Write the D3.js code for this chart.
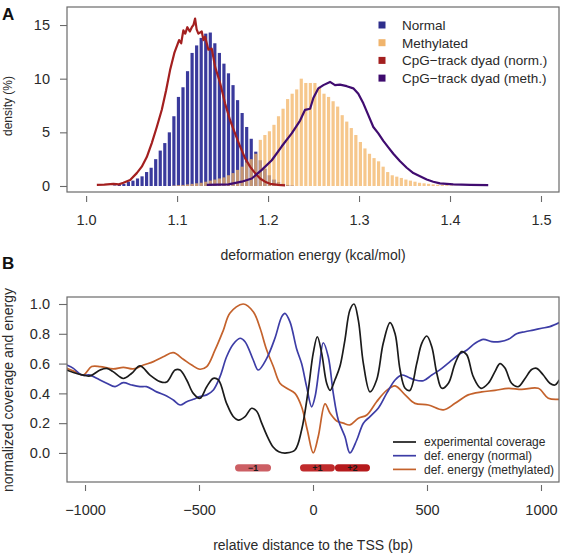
<!DOCTYPE html>
<html><head><meta charset="utf-8">
<script src="https://cdn.jsdelivr.net/npm/d3@7"></script>
<style>
body{margin:0;background:#fff}
svg{display:block}
text{font-family:"Liberation Sans",Arial,Helvetica,sans-serif}
</style>
</head><body>
<svg id="c" width="562" height="553"></svg>
<script>
// ---------- Panel A data ----------
const binWidth = 0.005;
const normalFirstCenter = 1.0315;
const normalDensity = [0.05,0.1,0.2,0.4,0.5,0.7,0.9,1.3,1.7,2.5,3.3,4.0,5.0,6.5,8.3,9.2,10.7,12.4,13.1,13.8,14.2,14.3,13.3,12.4,11.4,10.5,9.4,8.0,6.8,5.5,4.4,3.2,2.4,1.6,1.0,0.6,0.35,0.2,0.1,0.05];
const methFirstCenter = 1.0965;
const methDensity = [0.05,0.08,0.1,0.15,0.2,0.25,0.3,0.4,0.5,0.6,0.7,0.8,1.0,1.2,1.5,1.8,2.2,2.5,3.0,4.3,4.75,5.1,5.7,6.5,7.2,8.1,8.6,9.0,10.0,9.6,9.6,9.6,9.25,8.6,8.3,7.9,7.4,6.6,6.0,5.4,4.75,4.1,3.5,3.0,2.6,2.3,1.8,1.3,1.0,0.87,0.75,0.6,0.5,0.4,0.3,0.25,0.2,0.15,0.12,0.1,0.08,0.05,0.03];
const cpgNormE = [1.0118,1.020,1.030,1.036,1.041,1.0484,1.0557,1.0612,1.0667,1.0722,1.0777,1.0832,1.0879,1.0923,1.097,1.1022,1.1045,1.1069,1.109,1.1113,1.114,1.1162,1.118,1.1198,1.1215,1.1234,1.1271,1.129,1.1308,1.1344,1.1381,1.1418,1.1473,1.1527,1.1582,1.1637,1.1692,1.1747,1.1802,1.1857,1.1912,1.1967,1.2022,1.211,1.2187];
const cpgNormD = [0.1,0.12,0.2,0.15,0.3,0.56,1.2,1.8,2.7,4.0,5.5,7.1,8.9,10.8,12.4,13.6,13.3,14.5,14.2,14.8,14.4,14.8,15.0,15.6,14.6,14.2,14.4,13.6,13.9,12.7,12.8,11.1,9.6,7.7,6.15,4.9,3.7,2.6,1.8,1.2,0.7,0.4,0.2,0.1,0.05];
const cpgMethE = [1.1326,1.1564,1.1711,1.1821,1.1931,1.2041,1.2151,1.2260,1.2352,1.2407,1.2462,1.2498,1.2553,1.2608,1.2681,1.2736,1.2791,1.2865,1.2937,1.2992,1.3047,1.3102,1.3157,1.3212,1.3267,1.3322,1.3377,1.3451,1.3524,1.3597,1.3670,1.3744,1.3816,1.3890,1.3964,1.4036,1.422,1.442];
const cpgMethD = [0.1,0.15,0.4,0.7,1.5,2.4,3.7,4.9,6.1,7.1,7.2,8.2,9.1,9.4,9.7,9.4,9.45,9.3,9.1,8.6,7.7,6.6,5.5,4.9,4.2,3.6,3.0,2.3,1.7,1.2,0.9,0.6,0.4,0.25,0.2,0.15,0.1,0.08];
const xTicksA = [1.0,1.1,1.2,1.3,1.4,1.5];
const yTicksA = [0,5,10,15];
const legendA = ["Normal","Methylated","CpG\u2212track dyad (norm.)","CpG\u2212track dyad (meth.)"];
const legendAColors = ["#2e2e8c","#f0b46c","#a31f1f","#3e0b6e"];

// ---------- Panel B data ----------
const blackX = [-1080,-1051,-1007,-978,-934,-905,-877,-832,-795,-759,-715,-671,-642,-605,-583,-554,-525,-496,-466,-437,-415,-379,-350,-328,-298,-269,-247,-225,-200,-175,-150,-115,-79,-50,-21,1,19,38,60,75,96,118,140,162,180,199,221,250,279,308,338,360,382,404,425,455,477,499,521,543,565,594,623,652,674,703,737,769,798,820,842,871,900,930,959,981,1010,1039,1061,1080];
const blackY = [0.557,0.54,0.523,0.517,0.557,0.568,0.546,0.50,0.535,0.584,0.523,0.479,0.476,0.557,0.557,0.49,0.40,0.367,0.445,0.501,0.49,0.333,0.245,0.221,0.244,0.30,0.28,0.2,0.11,0.04,0.008,0.0,0.02,0.154,0.42,0.67,0.78,0.67,0.468,0.42,0.49,0.58,0.758,0.96,1.0,0.89,0.60,0.41,0.49,0.736,0.875,0.80,0.557,0.434,0.42,0.60,0.736,0.785,0.713,0.535,0.434,0.468,0.60,0.68,0.66,0.512,0.434,0.468,0.546,0.60,0.57,0.468,0.445,0.50,0.56,0.568,0.523,0.468,0.456,0.49];
const blueX = [-1080,-1051,-1014,-978,-949,-905,-868,-832,-795,-759,-730,-686,-642,-613,-583,-554,-525,-496,-466,-437,-408,-379,-350,-320,-298,-262,-240,-203,-167,-137,-123,-101,-72,-50,-28,-6,9,28,45,67,89,111,140,162,192,221,250,286,323,360,389,418,447,484,521,565,601,637,674,711,747,784,820,857,893,930,966,1003,1039,1080];
const blueY = [0.59,0.568,0.523,0.523,0.501,0.468,0.445,0.472,0.456,0.445,0.445,0.41,0.383,0.356,0.322,0.344,0.36,0.378,0.39,0.423,0.512,0.646,0.73,0.77,0.747,0.624,0.557,0.635,0.77,0.915,0.937,0.88,0.70,0.60,0.445,0.31,0.378,0.58,0.74,0.646,0.40,0.221,0.11,0.0,0.087,0.2,0.244,0.30,0.40,0.49,0.523,0.508,0.49,0.485,0.523,0.568,0.613,0.658,0.69,0.736,0.763,0.747,0.747,0.763,0.80,0.814,0.825,0.837,0.848,0.875];
const orangeX = [-1080,-1044,-1007,-971,-934,-876,-832,-788,-744,-700,-657,-613,-569,-532,-496,-466,-430,-393,-364,-306,-262,-232,-205,-174,-145,-115,-79,-50,-25,1,23,53,75,104,133,162,199,236,279,323,360,404,447,506,572,623,681,740,798,857,915,988,1032,1080];
const orangeY = [0.568,0.546,0.523,0.58,0.58,0.564,0.575,0.564,0.59,0.613,0.646,0.673,0.629,0.59,0.562,0.58,0.69,0.825,0.94,1.0,0.948,0.837,0.70,0.58,0.468,0.434,0.40,0.31,0.154,0.0,0.11,0.33,0.266,0.215,0.2,0.188,0.233,0.255,0.344,0.42,0.45,0.39,0.333,0.322,0.289,0.333,0.39,0.41,0.42,0.434,0.427,0.434,0.367,0.36];
const nucLabels = ["\u22121","+1","+2"];
const nucStart = [-342,-57,96];
const nucEnd = [-184,96,250];
const nucColors = ["#cc5f64","#c02b2c","#b51a1c"];
const xTicksB = [-1000,-500,0,500,1000];
const yTicksB = [0,0.2,0.4,0.6,0.8,1.0];
const legendB = ["experimental coverage","def. energy (normal)","def. energy (methylated)"];
const lineColors = ["#1b1b1b","#3d3da6","#c4622c"];

// ---------- drawing ----------
const svg = d3.select("#c");
const boxCol = "#6a6a6a", txtCol = "#2a2a2a";

// Panel A
const xA = d3.scaleLinear().domain([0.979, 1.5198]).range([67, 559]);
const yA = d3.scaleLinear().domain([-0.56, 16.68]).range([192, 7]);
const bw = xA(1 + binWidth) - xA(1);
const barW = bw * 0.7;

const gA = svg.append("g");
gA.selectAll("rect.n").data(normalDensity).join("rect")
  .attr("x", (d,i) => xA(normalFirstCenter + i*binWidth) - barW/2)
  .attr("width", barW)
  .attr("y", d => yA(d)).attr("height", d => yA(0) - yA(d))
  .attr("fill", "#3a3a9c");
gA.selectAll("rect.m").data(methDensity).join("rect")
  .attr("x", (d,i) => xA(methFirstCenter + i*binWidth) - barW/2)
  .attr("width", barW)
  .attr("y", d => yA(d)).attr("height", d => yA(0) - yA(d))
  .attr("fill", "#f3b466").attr("fill-opacity", 0.75);

const lineA = d3.line().x(d => xA(d[0])).y(d => yA(d[1]));
gA.append("path").datum(cpgNormE.map((e,i) => [e, cpgNormD[i]]))
  .attr("d", lineA).attr("fill","none").attr("stroke","#a31f1f").attr("stroke-width",2.2).attr("stroke-linejoin","round");
gA.append("path").datum(cpgMethE.map((e,i) => [e, cpgMethD[i]]))
  .attr("d", lineA).attr("fill","none").attr("stroke","#400c70").attr("stroke-width",2.2).attr("stroke-linejoin","round");

gA.append("rect").attr("x",67).attr("y",7).attr("width",492).attr("height",185)
  .attr("fill","none").attr("stroke",boxCol).attr("stroke-width",1.2);

function styleAxis(g){
  g.select(".domain").remove();
  g.selectAll("line").attr("stroke", boxCol).attr("stroke-width",1.1);
  g.selectAll("text").attr("fill", txtCol).style("font-size","14.5px")
   .style("font-family",'"Liberation Sans",Arial,Helvetica,sans-serif');
}
svg.append("g").attr("transform","translate(0,196)")
  .call(d3.axisBottom(xA).tickValues(xTicksA).tickFormat(d3.format(".1f")).tickSize(6).tickPadding(13))
  .call(styleAxis);
svg.append("g").attr("transform","translate(67,0)")
  .call(d3.axisLeft(yA).tickValues(yTicksA).tickFormat(d3.format("d")).tickSize(7).tickPadding(10))
  .call(styleAxis);

svg.append("text").attr("x",313).attr("y",260).attr("text-anchor","middle")
  .style("font-size","14px").attr("fill",txtCol).text("deformation energy (kcal/mol)");
svg.append("text").attr("transform","translate(12,106) rotate(-90)").attr("text-anchor","middle")
  .style("font-size","12px").attr("fill",txtCol).text("density (%)");

const legA = svg.append("g");
legendA.forEach((t,i) => {
  const y = 25 + i*17.7;
  legA.append("rect").attr("x",378.5).attr("y",y-3.5).attr("width",7).attr("height",7).attr("fill",legendAColors[i]);
  legA.append("text").attr("x",402).attr("y",y+4.8).style("font-size","13.5px").attr("fill",txtCol).text(t);
});

svg.append("text").attr("x",2).attr("y",20).style("font-size","17px").style("font-weight","bold").attr("fill","#111").text("A");
svg.append("text").attr("x",2).attr("y",269).style("font-size","17px").style("font-weight","bold").attr("fill","#111").text("B");

// Panel B
const xB = d3.scaleLinear().domain([-1079, 1079]).range([67, 559]);
const yB = d3.scaleLinear().domain([-0.195, 1.047]).range([482, 297]);
const gB = svg.append("g");
const lb = d3.line().x(d => xB(d[0])).y(d => yB(d[1])).curve(d3.curveCatmullRom.alpha(0.5));
gB.append("defs").append("clipPath").attr("id","clipB").append("rect")
  .attr("x",67).attr("y",297).attr("width",492).attr("height",185);
const series = [[orangeX,orangeY,lineColors[2]],[blueX,blueY,lineColors[1]],[blackX,blackY,lineColors[0]]];
series.forEach(s => {
  gB.append("path").datum(s[0].map((x,i) => [x, s[1][i]]))
    .attr("d", lb).attr("fill","none").attr("stroke", s[2]).attr("stroke-width",1.7)
    .attr("clip-path","url(#clipB)");
});

// nucleosome pills
nucLabels.forEach((t,i) => {
  const x0 = xB(nucStart[i]), x1 = xB(nucEnd[i]), yc = yB(-0.1);
  gB.append("rect").attr("x",x0).attr("y",yc-3.6).attr("width",x1-x0).attr("height",7.2)
    .attr("rx",3.6).attr("fill",nucColors[i]);
  gB.append("text").attr("x",(x0+x1)/2).attr("y",yc+3.3).attr("text-anchor","middle")
    .style("font-size","9px").style("font-weight","bold").attr("fill","#1a1a1a").text(t);
});

gB.append("rect").attr("x",67).attr("y",297).attr("width",492).attr("height",185)
  .attr("fill","none").attr("stroke",boxCol).attr("stroke-width",1.2);

svg.append("g").attr("transform","translate(0,485)")
  .call(d3.axisBottom(xB).tickValues(xTicksB).tickFormat(d3.format("d")).tickSize(6).tickPadding(14))
  .call(styleAxis);
svg.append("g").attr("transform","translate(67,0)")
  .call(d3.axisLeft(yB).tickValues(yTicksB).tickFormat(d3.format(".1f")).tickSize(8).tickPadding(9))
  .call(styleAxis);

svg.append("text").attr("x",313).attr("y",550).attr("text-anchor","middle")
  .style("font-size","14px").attr("fill",txtCol).text("relative distance to the TSS (bp)");
svg.append("text").attr("transform","translate(13,390) rotate(-90)").attr("text-anchor","middle")
  .style("font-size","14px").attr("fill",txtCol).text("normalized coverage and energy");

legendB.forEach((t,i) => {
  const y = 442 + i*13.7;
  svg.append("line").attr("x1",393).attr("x2",416).attr("y1",y).attr("y2",y)
    .attr("stroke",lineColors[i]).attr("stroke-width",1.7);
  svg.append("text").attr("x",424).attr("y",y+4.2).style("font-size","12px").attr("fill",txtCol).text(t);
});
</script>
</body></html>
